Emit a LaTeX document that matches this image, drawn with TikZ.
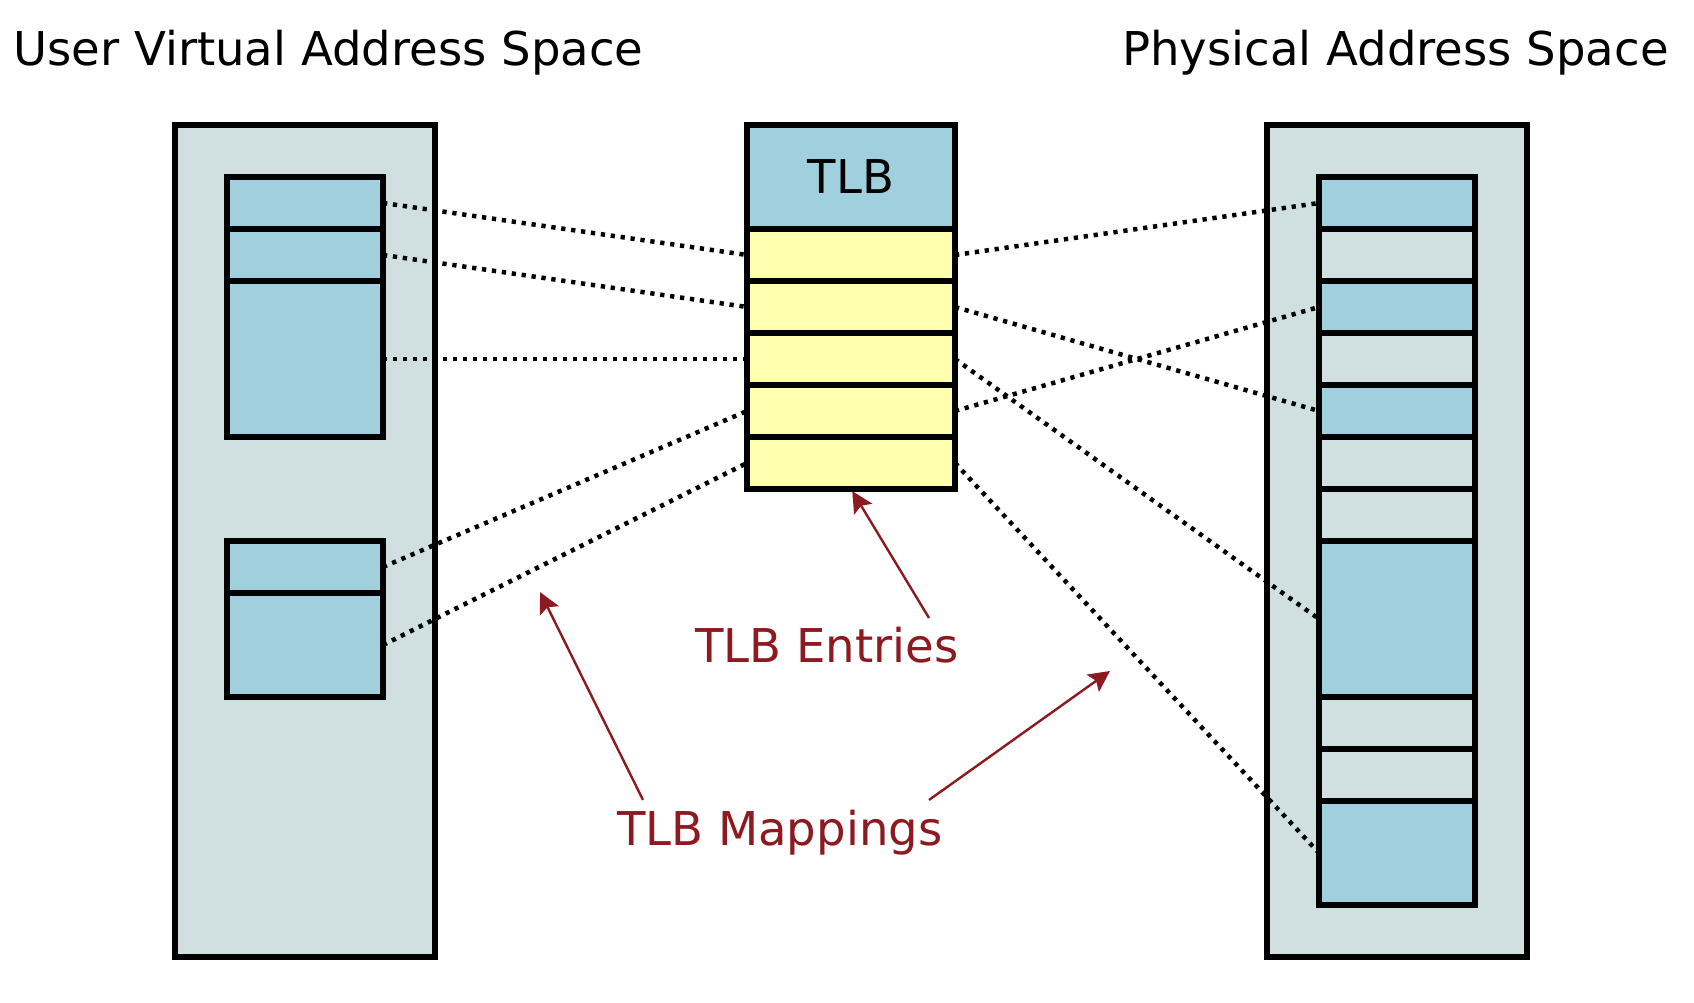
\documentclass[tikz,border=0pt]{standalone}
\usepackage{fontspec}
\setmainfont{DejaVu Sans}
\usetikzlibrary{fit,arrows.meta}
\definecolor{cellblue}{RGB}{160,208,222}
\definecolor{spacegrey}{RGB}{208,224,224}
\definecolor{entryyellow}{RGB}{255,255,176}
\definecolor{notered}{RGB}{140,26,32}
\begin{document}
\begin{tikzpicture}[x=1.04cm,y=-1.04cm,
  box/.style={draw=black, line width=0.105cm, inner sep=0pt, outer sep=0pt},
  space/.style={box, fill=spacegrey},
  used/.style={box, fill=cellblue},
  free/.style={box, fill=spacegrey},
  entry/.style={box, fill=entryyellow},
  map/.style={line width=0.09cm, dash pattern=on 0.085cm off 0.115cm},
  note/.style={draw=notered, line width=0.048cm, -{Stealth[length=0.42cm,width=0.42cm,inset=0.08cm]}},
  lbl/.style={font=\fontsize{26.5}{30}\selectfont},
  ]
\useasboundingbox (-3.3654,-2.4038) rectangle (29.2115,16.8654);
% virtual address space
\node[space, fit={(0,0)(5,16)}] (vspace) {};
\node[used, fit={(1,1)(4,2)}] (v1) {};
\node[used, fit={(1,2)(4,3)}] (v2) {};
\node[used, fit={(1,3)(4,6)}] (v3) {};
\node[used, fit={(1,8)(4,9)}] (v4) {};
\node[used, fit={(1,9)(4,11)}] (v5) {};
% TLB
\node[used, fit={(11,0)(15,2)}] (tlb) {};
\node[lbl] (tlblabel) at (tlb.center) {TLB};
\node[entry, fit={(11,2)(15,3)}] (e1) {};
\node[entry, fit={(11,3)(15,4)}] (e2) {};
\node[entry, fit={(11,4)(15,5)}] (e3) {};
\node[entry, fit={(11,5)(15,6)}] (e4) {};
\node[entry, fit={(11,6)(15,7)}] (e5) {};
% physical address space
\node[space, fit={(21,0)(26,16)}] (pspace) {};
\node[used, fit={(22,1)(25,2)}] (p1) {};
\node[free, fit={(22,2)(25,3)}] (p2) {};
\node[used, fit={(22,3)(25,4)}] (p3) {};
\node[free, fit={(22,4)(25,5)}] (p4) {};
\node[used, fit={(22,5)(25,6)}] (p5) {};
\node[free, fit={(22,6)(25,7)}] (p6) {};
\node[free, fit={(22,7)(25,8)}] (p7) {};
\node[used, fit={(22,8)(25,11)}] (p8) {};
\node[free, fit={(22,11)(25,12)}] (p9) {};
\node[free, fit={(22,12)(25,13)}] (p10) {};
\node[used, fit={(22,13)(25,15)}] (p11) {};
% mappings
\draw[map] (v1.east) -- (e1.west);
\draw[map] (v2.east) -- (e2.west);
\draw[map] (v3.east) -- (e3.west);
\draw[map] (v4.east) -- (e4.west);
\draw[map] (v5.east) -- (e5.west);
\draw[map] (e1.east) -- (p1.west);
\draw[map] (e2.east) -- (p5.west);
\draw[map] (e3.east) -- (p8.west);
\draw[map] (e4.east) -- (p3.west);
\draw[map] (e5.east) -- (p11.west);
% titles
\node[lbl, anchor=base] (vtitle) at (2.95,-1.15) {User Virtual Address Space};
\node[lbl, anchor=base] (ptitle) at (23.47,-1.15) {Physical Address Space};
% notes
\node[lbl, text=notered, anchor=base] (entries) at (12.54,10.33) {TLB Entries};
\node[lbl, text=notered, anchor=base] (mappings) at (11.63,13.85) {TLB Mappings};
\coordinate (entriesfoot) at (14.5,9.48);
\coordinate (mapfootL) at (9.0,12.98);
\coordinate (mapfootR) at (14.5,12.98);
\coordinate (mapgapL) at (7.02,8.98);
\coordinate (mapgapR) at (17.98,10.5);
\draw[note, shorten >=0.05cm] (entriesfoot) -- (e5.south);
\draw[note] (mapfootL) -- (mapgapL);
\draw[note] (mapfootR) -- (mapgapR);
\end{tikzpicture}
\end{document}
